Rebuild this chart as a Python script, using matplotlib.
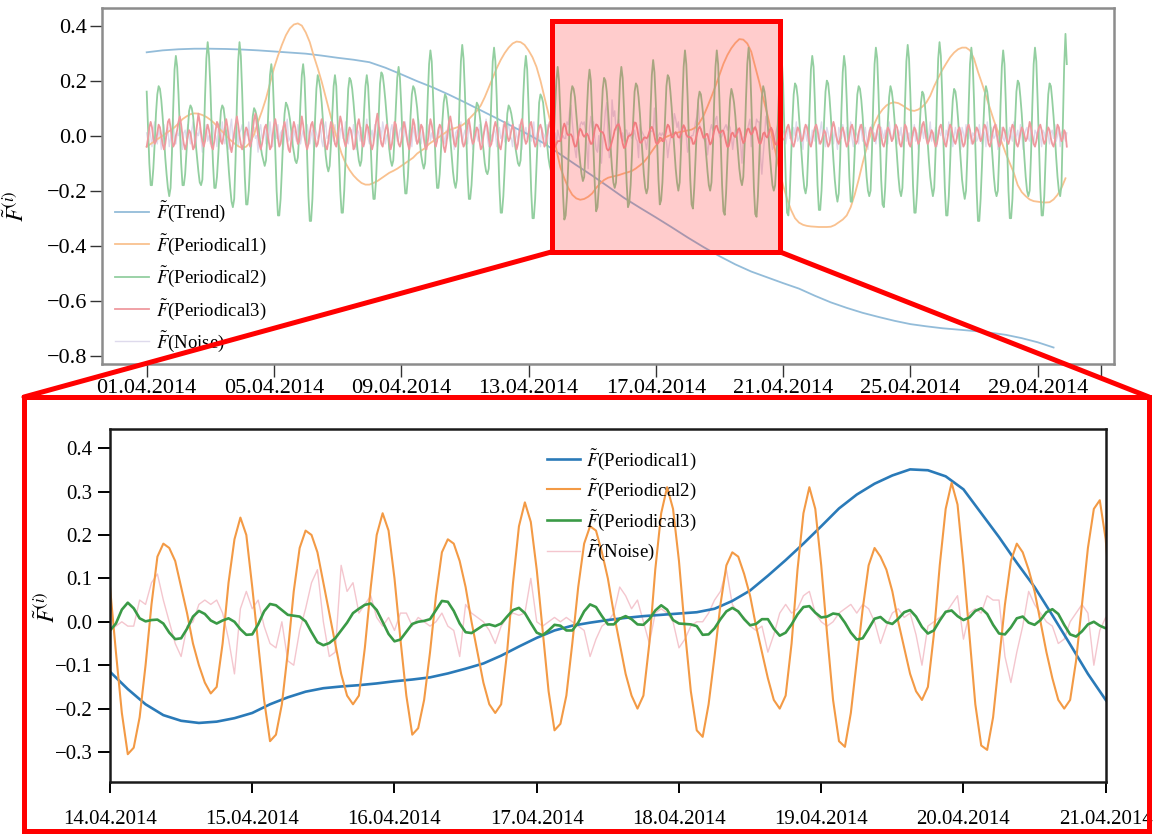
import matplotlib
matplotlib.use('Agg')
import matplotlib.pyplot as plt
import matplotlib.dates as mdates
from matplotlib.patches import Rectangle, ConnectionPatch
import pandas as pd

# hourly components from 01.04.2014 00:00 (one row per day)
periodical2 = [
    0.16, 0.03, -0.10, -0.18, -0.18, -0.12, -0.03, 0.08, 0.15, 0.18, 0.17, 0.13, 0.07, 0.00, -0.08, -0.14, -0.19, -0.22, -0.19, -0.07, 0.10, 0.24, 0.29, 0.25,
    0.15, 0.02, -0.10, -0.18, -0.18, -0.14, -0.06, 0.02, 0.09, 0.11, 0.10, 0.07, 0.02, -0.03, -0.08, -0.13, -0.17, -0.18, -0.16, -0.03, 0.14, 0.28, 0.34, 0.29,
    0.18, 0.03, -0.10, -0.19, -0.19, -0.15, -0.07, 0.02, 0.09, 0.11, 0.10, 0.06, 0.00, -0.06, -0.13, -0.19, -0.24, -0.26, -0.23, -0.09, 0.11, 0.27, 0.34, 0.29,
    0.16, 0.00, -0.15, -0.25, -0.25, -0.20, -0.10, 0.00, 0.07, 0.10, 0.09, 0.07, 0.04, 0.00, -0.04, -0.07, -0.09, -0.11, -0.09, 0.00, 0.12, 0.22, 0.26, 0.22,
    0.09, -0.06, -0.20, -0.29, -0.29, -0.23, -0.12, 0.00, 0.08, 0.12, 0.11, 0.09, 0.06, 0.02, -0.03, -0.06, -0.09, -0.10, -0.08, 0.00, 0.12, 0.22, 0.26, 0.21,
    0.08, -0.07, -0.22, -0.31, -0.31, -0.23, -0.09, 0.06, 0.17, 0.22, 0.20, 0.17, 0.12, 0.05, -0.01, -0.07, -0.11, -0.13, -0.11, -0.03, 0.08, 0.18, 0.22, 0.18,
    0.06, -0.07, -0.20, -0.28, -0.28, -0.20, -0.08, 0.06, 0.17, 0.21, 0.20, 0.17, 0.12, 0.06, 0.00, -0.05, -0.09, -0.11, -0.09, -0.01, 0.09, 0.18, 0.22, 0.18,
    0.08, -0.04, -0.16, -0.23, -0.23, -0.16, -0.04, 0.09, 0.19, 0.23, 0.22, 0.18, 0.13, 0.07, 0.01, -0.05, -0.09, -0.11, -0.09, 0.00, 0.11, 0.21, 0.25, 0.21,
    0.11, -0.02, -0.14, -0.21, -0.21, -0.15, -0.05, 0.07, 0.15, 0.18, 0.17, 0.14, 0.10, 0.04, -0.02, -0.07, -0.10, -0.12, -0.10, 0.00, 0.14, 0.26, 0.31, 0.27,
    0.15, 0.02, -0.11, -0.19, -0.19, -0.14, -0.05, 0.05, 0.12, 0.15, 0.14, 0.10, 0.05, -0.01, -0.07, -0.13, -0.17, -0.19, -0.16, -0.04, 0.13, 0.27, 0.33, 0.28,
    0.16, 0.01, -0.14, -0.23, -0.23, -0.18, -0.09, 0.01, 0.09, 0.12, 0.11, 0.08, 0.04, -0.01, -0.05, -0.10, -0.13, -0.14, -0.12, -0.01, 0.14, 0.27, 0.32, 0.27,
    0.14, -0.03, -0.18, -0.28, -0.28, -0.22, -0.12, -0.01, 0.08, 0.11, 0.10, 0.08, 0.05, 0.01, -0.04, -0.07, -0.10, -0.11, -0.09, 0.00, 0.14, 0.24, 0.29, 0.24,
    0.11, -0.05, -0.20, -0.30, -0.30, -0.23, -0.11, 0.02, 0.12, 0.15, 0.14, 0.12, 0.07, 0.02, -0.03, -0.08, -0.11, -0.13, -0.11, -0.02, 0.10, 0.20, 0.25, 0.20,
    0.08, -0.07, -0.21, -0.305, -0.29, -0.22, -0.10, 0.04, 0.15, 0.18, 0.17, 0.14, 0.08, 0.02, -0.05, -0.10, -0.14, -0.165, -0.15, -0.05, 0.09, 0.19, 0.24, 0.20,
    0.08, -0.05, -0.18, -0.275, -0.26, -0.19, -0.07, 0.07, 0.17, 0.21, 0.20, 0.16, 0.09, 0.02, -0.05, -0.12, -0.17, -0.19, -0.17, -0.06, 0.08, 0.20, 0.25, 0.21,
    0.10, -0.04, -0.17, -0.26, -0.245, -0.18, -0.07, 0.06, 0.16, 0.19, 0.18, 0.14, 0.08, 0.00, -0.07, -0.14, -0.19, -0.21, -0.19, -0.07, 0.09, 0.22, 0.275, 0.23,
    0.12, -0.02, -0.16, -0.25, -0.235, -0.17, -0.05, 0.08, 0.18, 0.22, 0.21, 0.16, 0.10, 0.02, -0.05, -0.12, -0.17, -0.20, -0.17, -0.05, 0.12, 0.25, 0.31, 0.26,
    0.14, -0.02, -0.16, -0.25, -0.265, -0.19, -0.08, 0.04, 0.13, 0.16, 0.15, 0.11, 0.06, -0.01, -0.07, -0.13, -0.18, -0.20, -0.17, -0.05, 0.12, 0.25, 0.31, 0.26,
    0.13, -0.03, -0.18, -0.275, -0.288, -0.21, -0.09, 0.03, 0.13, 0.17, 0.15, 0.12, 0.07, 0.00, -0.06, -0.12, -0.16, -0.18, -0.15, -0.03, 0.13, 0.26, 0.32, 0.27,
    0.13, -0.03, -0.19, -0.285, -0.295, -0.22, -0.09, 0.04, 0.14, 0.18, 0.16, 0.12, 0.07, 0.00, -0.07, -0.13, -0.18, -0.20, -0.18, -0.09, 0.04, 0.17, 0.26, 0.28,
    0.19, 0.02, -0.16, -0.28, -0.29, -0.22, -0.09, 0.05, 0.15, 0.19, 0.18, 0.14, 0.07, 0.00, -0.07, -0.14, -0.19, -0.21, -0.18, -0.06, 0.10, 0.24, 0.29, 0.25,
    0.12, -0.04, -0.18, -0.27, -0.27, -0.20, -0.08, 0.06, 0.16, 0.20, 0.19, 0.14, 0.07, -0.01, -0.09, -0.16, -0.21, -0.24, -0.21, -0.09, 0.09, 0.23, 0.29, 0.25,
    0.13, -0.01, -0.15, -0.24, -0.24, -0.17, -0.06, 0.06, 0.15, 0.18, 0.17, 0.13, 0.07, -0.01, -0.08, -0.15, -0.20, -0.22, -0.20, -0.06, 0.12, 0.26, 0.32, 0.28,
    0.15, -0.01, -0.16, -0.25, -0.26, -0.19, -0.07, 0.05, 0.14, 0.18, 0.16, 0.12, 0.06, -0.01, -0.08, -0.15, -0.20, -0.22, -0.19, -0.06, 0.12, 0.27, 0.33, 0.28,
    0.15, -0.02, -0.18, -0.28, -0.28, -0.21, -0.10, 0.03, 0.12, 0.16, 0.15, 0.11, 0.05, -0.02, -0.09, -0.15, -0.19, -0.22, -0.19, -0.06, 0.13, 0.28, 0.34, 0.29,
    0.15, -0.03, -0.19, -0.29, -0.29, -0.22, -0.10, 0.04, 0.13, 0.17, 0.16, 0.12, 0.06, -0.02, -0.09, -0.16, -0.20, -0.23, -0.20, -0.07, 0.11, 0.26, 0.32, 0.27,
    0.13, -0.04, -0.20, -0.31, -0.31, -0.23, -0.11, 0.03, 0.14, 0.18, 0.16, 0.12, 0.06, -0.01, -0.08, -0.15, -0.20, -0.22, -0.20, -0.07, 0.11, 0.25, 0.31, 0.26,
    0.12, -0.04, -0.20, -0.30, -0.30, -0.23, -0.09, 0.05, 0.16, 0.20, 0.19, 0.14, 0.08, 0.00, -0.08, -0.15, -0.20, -0.22, -0.20, -0.07, 0.11, 0.26, 0.32, 0.27,
    0.13, -0.03, -0.19, -0.29, -0.29, -0.22, -0.09, 0.05, 0.15, 0.19, 0.18, 0.13, 0.07, 0.00, -0.08, -0.15, -0.20, -0.22, -0.18, 0.03, 0.25, 0.37, 0.26,
]

periodical3 = [
    -0.04, -0.01, 0.03, 0.05, 0.03, -0.01, -0.03, -0.02, 0.01, 0.04, 0.03, 0.00, -0.03, -0.05, -0.03, 0.01, 0.05, 0.06, 0.03, -0.01, -0.04, -0.03, 0.00, 0.02,
    0.05, 0.07, 0.04, 0.00, -0.03, -0.05, -0.03, 0.00, 0.02, 0.01, -0.02, -0.05, -0.04, 0.00, 0.04, 0.08, 0.05, 0.01, -0.02, -0.04, -0.02, 0.02, 0.04, 0.02,
    -0.01, -0.04, -0.05, -0.02, 0.02, 0.05, 0.04, 0.01, -0.02, -0.03, 0.00, 0.03, 0.06, 0.03, -0.01, -0.04, -0.06, -0.03, 0.01, 0.04, 0.07, 0.04, 0.00, -0.03,
    -0.05, -0.03, 0.01, 0.03, 0.02, -0.01, -0.04, -0.02, 0.02, 0.06, 0.08, 0.04, 0.00, -0.03, -0.05, -0.03, 0.00, 0.03, 0.04, 0.01, -0.02, -0.05, -0.04, 0.00,
    0.04, 0.06, 0.03, -0.01, -0.04, -0.03, 0.00, 0.03, 0.05, 0.02, -0.02, -0.05, -0.06, -0.02, 0.02, 0.05, 0.03, 0.00, -0.03, -0.02, 0.02, 0.07, 0.04, 0.00,
    -0.03, -0.05, -0.03, 0.01, 0.04, 0.05, 0.02, -0.01, -0.04, -0.03, 0.00, 0.04, 0.06, 0.03, -0.01, -0.04, -0.05, -0.02, 0.02, 0.05, 0.03, 0.00, -0.03, -0.04,
    -0.01, 0.03, 0.07, 0.05, 0.01, -0.02, -0.04, -0.02, 0.01, 0.03, 0.02, -0.01, -0.05, -0.04, 0.00, 0.04, 0.06, 0.03, -0.01, -0.04, -0.03, 0.01, 0.04, 0.03,
    0.00, -0.03, -0.05, -0.03, 0.01, 0.05, 0.08, 0.04, 0.00, -0.03, -0.04, -0.01, 0.02, 0.04, 0.02, -0.02, -0.05, -0.03, 0.01, 0.05, 0.04, 0.00, -0.03, -0.04,
    -0.02, 0.02, 0.05, 0.03, 0.00, -0.03, -0.05, -0.02, 0.02, 0.06, 0.04, 0.00, -0.03, -0.02, 0.01, 0.04, 0.03, -0.01, -0.04, -0.05, -0.02, 0.02, 0.06, 0.04,
    0.01, -0.02, -0.04, -0.02, 0.02, 0.04, 0.03, 0.00, -0.04, -0.06, -0.03, 0.01, 0.05, 0.07, 0.04, 0.00, -0.03, -0.04, -0.01, 0.02, 0.04, 0.02, -0.02, -0.04,
    -0.03, 0.00, 0.04, 0.06, 0.03, -0.01, -0.03, -0.02, 0.01, 0.03, 0.02, -0.02, -0.05, -0.04, 0.00, 0.03, 0.05, 0.03, -0.01, -0.04, -0.03, 0.00, 0.03, 0.05,
    0.03, -0.01, -0.04, -0.05, -0.02, 0.02, 0.05, 0.03, 0.00, -0.02, -0.01, 0.02, 0.04, 0.02, -0.02, -0.05, -0.03, 0.01, 0.04, 0.06, 0.03, -0.01, -0.03, -0.02,
    0.01, 0.04, 0.05, 0.02, -0.02, -0.04, -0.03, 0.00, 0.03, 0.04, 0.02, -0.01, -0.04, -0.03, 0.00, 0.03, 0.05, 0.02, -0.01, -0.03, -0.04, -0.03, -0.02, -0.02,
    -0.020, -0.004, 0.028, 0.044, 0.031, 0.008, 0.001, 0.004, 0.005, -0.004, -0.025, -0.040, -0.038, -0.016, 0.012, 0.025, 0.018, 0.003, -0.004, 0.003, 0.008, 0.000, -0.017, -0.030,
    -0.029, -0.006, 0.024, 0.041, 0.038, 0.027, 0.016, 0.014, 0.012, 0.001, -0.024, -0.047, -0.054, -0.049, -0.038, -0.020, -0.002, 0.020, 0.030, 0.039, 0.042, 0.027, 0.000, -0.028,
    -0.045, -0.041, -0.023, -0.005, 0.000, 0.002, 0.006, 0.027, 0.048, 0.046, 0.025, -0.004, -0.024, -0.026, -0.017, -0.008, -0.006, -0.010, -0.004, 0.012, 0.027, 0.032, 0.020, -0.003,
    -0.025, -0.031, -0.020, -0.007, -0.009, -0.020, -0.020, -0.002, 0.024, 0.040, 0.034, 0.013, -0.006, -0.006, 0.007, 0.013, 0.006, -0.006, -0.007, 0.006, 0.026, 0.038, 0.028, 0.004,
    -0.004, -0.005, -0.006, -0.010, -0.030, -0.029, -0.015, 0.006, 0.024, 0.032, 0.024, 0.006, -0.008, -0.005, 0.006, 0.006, -0.016, -0.032, -0.025, -0.006, 0.017, 0.034, 0.036, 0.021,
    0.010, 0.012, 0.019, 0.017, -0.002, -0.025, -0.041, -0.038, -0.016, 0.007, 0.011, -0.001, -0.005, 0.007, 0.022, 0.027, 0.012, -0.012, -0.027, -0.020, 0.003, 0.023, 0.026, 0.013,
    0.004, 0.010, 0.025, 0.031, 0.018, -0.007, -0.027, -0.029, -0.013, 0.008, 0.012, -0.002, -0.007, 0.004, 0.022, 0.029, 0.018, -0.007, -0.029, -0.034, -0.022, -0.006, 0.000, -0.009,
    -0.015, -0.01, 0.01, 0.03, 0.04, 0.02, -0.01, -0.03, -0.04, -0.02, 0.01, 0.03, 0.02, 0.00, -0.02, -0.01, 0.02, 0.04, 0.03, 0.00, -0.03, -0.04, -0.02, 0.01,
    0.03, 0.04, 0.02, -0.01, -0.03, -0.02, 0.00, 0.02, 0.01, -0.02, -0.04, -0.03, 0.00, 0.03, 0.05, 0.03, 0.00, -0.02, -0.03, -0.01, 0.02, 0.03, 0.01, -0.02,
    -0.04, -0.03, 0.00, 0.03, 0.04, 0.02, -0.01, -0.03, -0.02, 0.01, 0.03, 0.04, 0.02, -0.01, -0.03, -0.04, -0.02, 0.01, 0.03, 0.02, 0.00, -0.02, -0.01, 0.02,
    0.04, 0.03, 0.00, -0.03, -0.04, -0.02, 0.01, 0.03, 0.02, 0.00, -0.02, -0.01, 0.02, 0.04, 0.03, 0.00, -0.03, -0.04, -0.02, 0.01, 0.04, 0.03, 0.00, -0.03,
    -0.04, -0.02, 0.01, 0.03, 0.02, -0.01, -0.03, -0.02, 0.01, 0.04, 0.05, 0.02, -0.01, -0.03, -0.02, 0.00, 0.02, 0.01, -0.02, -0.04, -0.03, 0.00, 0.03, 0.04,
    0.02, -0.01, -0.03, -0.04, -0.01, 0.02, 0.04, 0.03, 0.00, -0.02, -0.03, -0.01, 0.02, 0.03, 0.01, -0.02, -0.04, -0.03, 0.00, 0.03, 0.04, 0.02, -0.01, -0.03,
    -0.02, 0.01, 0.03, 0.02, 0.00, -0.02, -0.01, 0.02, 0.04, 0.03, 0.00, -0.03, -0.04, -0.02, 0.01, 0.03, 0.04, 0.01, -0.02, -0.04, -0.03, 0.00, 0.03, 0.02,
    0.00, -0.02, -0.03, -0.01, 0.02, 0.04, 0.03, 0.00, -0.03, -0.04, -0.02, 0.01, 0.03, 0.02, 0.00, -0.02, -0.01, 0.02, 0.05, 0.03, 0.00, -0.03, -0.04, -0.02,
    0.01, 0.03, 0.04, 0.02, -0.01, -0.03, -0.02, 0.01, 0.03, 0.02, -0.01, -0.03, -0.04, -0.02, 0.01, 0.04, 0.03, 0.00, -0.02, -0.01, 0.02, 0.01, -0.04,
]

noise = [
    0.01, -0.02, 0.03, 0.00, -0.04, 0.02, 0.05, -0.01, -0.03, 0.02, 0.00, -0.05, 0.01, 0.04, -0.02, 0.00, 0.03, -0.04, -0.01, 0.02, 0.06, -0.02, -0.03, 0.01,
    0.00, 0.03, -0.02, -0.05, 0.01, 0.02, -0.01, 0.04, 0.00, -0.03, 0.02, 0.05, -0.02, -0.04, 0.01, 0.00, 0.03, -0.01, -0.06, 0.02, 0.01, 0.04, -0.02, 0.00,
    -0.03, 0.02, 0.04, -0.01, 0.00, -0.04, 0.03, 0.01, -0.02, 0.05, -0.01, -0.03, 0.02, 0.00, -0.05, 0.03, 0.06, -0.02, 0.00, -0.01, 0.03, -0.04, 0.01, 0.02,
    0.04, -0.01, -0.03, 0.02, 0.00, 0.05, -0.02, -0.04, 0.01, 0.03, -0.01, 0.00, -0.06, 0.02, 0.04, -0.01, 0.00, 0.03, -0.03, 0.01, -0.02, 0.05, 0.00, -0.04,
    0.02, 0.00, -0.01, 0.04, -0.03, 0.01, 0.02, -0.05, 0.00, 0.03, 0.06, -0.02, -0.01, 0.01, -0.04, 0.02, 0.00, -0.02, 0.04, 0.01, -0.03, 0.00, 0.02, -0.01,
    -0.02, 0.04, 0.01, -0.03, 0.00, 0.02, -0.05, 0.03, 0.01, -0.01, 0.00, 0.04, -0.02, -0.04, 0.03, 0.05, -0.01, 0.00, -0.03, 0.02, 0.01, -0.02, 0.04, 0.00,
    0.01, -0.04, 0.02, 0.03, -0.01, 0.00, 0.05, -0.02, -0.03, 0.01, 0.02, -0.01, 0.04, 0.00, -0.05, 0.02, 0.01, -0.02, 0.03, 0.00, -0.04, 0.02, 0.06, -0.01,
    -0.03, 0.00, 0.02, -0.02, 0.04, 0.01, -0.04, 0.00, 0.03, -0.01, 0.05, 0.02, -0.03, 0.00, 0.01, -0.05, 0.02, 0.04, -0.01, 0.00, 0.03, -0.02, -0.01, 0.02,
    0.03, -0.02, 0.00, 0.05, -0.01, -0.03, 0.02, 0.00, -0.04, 0.03, 0.01, -0.02, 0.00, 0.06, -0.01, -0.03, 0.02, 0.01, -0.05, 0.00, 0.02, 0.04, -0.02, 0.01,
    -0.01, 0.02, -0.04, 0.00, 0.03, 0.01, -0.02, 0.05, 0.00, -0.03, 0.02, -0.01, 0.04, -0.02, 0.00, 0.03, -0.05, 0.01, 0.02, -0.01, 0.00, 0.05, -0.03, 0.00,
    0.02, 0.00, -0.03, 0.04, 0.01, -0.01, -0.05, 0.02, 0.03, 0.00, -0.02, 0.04, 0.01, -0.03, 0.00, 0.02, 0.06, -0.01, -0.04, 0.01, 0.00, -0.02, 0.03, 0.01,
    -0.04, 0.01, 0.03, -0.01, 0.00, 0.04, -0.02, -0.03, 0.02, 0.05, 0.00, -0.01, -0.04, 0.02, 0.03, 0.00, -0.02, 0.04, 0.01, -0.05, 0.02, 0.00, 0.03, -0.01,
    0.00, 0.03, -0.02, 0.01, 0.05, -0.03, 0.00, 0.02, -0.01, -0.04, 0.03, 0.01, 0.00, -0.02, 0.04, 0.02, -0.03, 0.00, 0.05, -0.01, 0.01, -0.03, 0.02, 0.00,
    -0.02, -0.01, 0.00, -0.01, -0.01, 0.05, 0.04, 0.09, 0.11, 0.05, 0.00, -0.05, -0.08, -0.01, 0.00, 0.04, 0.05, 0.04, 0.05, 0.02, -0.04, -0.12, 0.03, 0.07,
    0.03, 0.05, -0.01, -0.05, -0.06, 0.00, -0.09, -0.10, -0.02, 0.03, 0.09, 0.12, 0.00, -0.08, -0.07, 0.13, 0.07, 0.09, 0.02, 0.04, 0.06, 0.01, -0.01, 0.01,
    -0.02, 0.02, 0.02, -0.01, 0.01, 0.00, -0.01, 0.00, 0.02, -0.01, -0.02, -0.08, 0.04, 0.02, 0.01, 0.00, -0.02, -0.05, -0.01, 0.01, 0.02, 0.015, 0.02, 0.10,
    0.00, -0.01, 0.00, 0.01, 0.00, 0.01, 0.00, -0.01, -0.02, -0.08, -0.04, -0.01, 0.00, 0.02, 0.08, 0.06, 0.03, 0.05, 0.00, -0.05, 0.02, 0.03, 0.02, 0.00,
    -0.06, -0.04, -0.01, 0.00, 0.00, 0.02, 0.05, 0.07, 0.12, 0.04, 0.02, 0.01, -0.01, -0.02, -0.01, -0.07, -0.03, 0.02, 0.04, 0.02, 0.03, 0.06, 0.07, 0.02,
    0.00, -0.01, 0.00, 0.02, 0.03, 0.04, 0.02, 0.04, 0.03, 0.00, -0.05, -0.01, 0.02, 0.03, 0.01, 0.02, -0.03, -0.10, -0.01, 0.00, 0.01, 0.02, 0.04, 0.06,
    -0.04, 0.02, 0.03, 0.02, 0.06, 0.05, 0.05, -0.08, -0.14, -0.07, -0.01, 0.07, 0.04, 0.02, 0.00, -0.01, -0.05, -0.04, 0.00, 0.02, 0.04, 0.02, -0.10, -0.02,
    0.01, 0.02, -0.03, 0.00, 0.04, -0.01, 0.01, -0.04, 0.03, 0.00, 0.05, -0.02, -0.01, 0.02, 0.00, -0.05, 0.03, 0.01, -0.02, 0.04, 0.00, -0.03, 0.02, 0.01,
    -0.02, 0.04, 0.00, -0.03, 0.02, 0.05, -0.01, 0.00, -0.04, 0.03, 0.01, -0.02, 0.00, 0.04, -0.03, 0.02, 0.00, -0.05, 0.03, 0.01, -0.01, 0.04, 0.00, -0.02,
    0.03, 0.00, -0.02, 0.05, -0.01, -0.04, 0.02, 0.01, 0.00, -0.03, 0.04, 0.02, -0.02, 0.00, 0.03, -0.01, -0.05, 0.02, 0.00, 0.04, -0.02, 0.01, -0.03, 0.02,
    0.00, -0.04, 0.03, 0.01, -0.01, 0.02, 0.00, -0.03, 0.05, 0.01, -0.02, 0.00, 0.04, -0.01, -0.03, 0.02, 0.00, 0.03, -0.04, 0.01, 0.05, -0.02, 0.00, 0.01,
    -0.03, 0.02, 0.00, 0.04, -0.02, 0.01, -0.05, 0.00, 0.03, 0.02, -0.01, 0.04, 0.00, -0.03, 0.01, 0.05, -0.02, 0.00, -0.01, 0.03, -0.04, 0.02, 0.01, 0.00,
    0.04, -0.01, -0.03, 0.02, 0.00, 0.05, -0.02, 0.01, -0.04, 0.00, 0.03, -0.01, 0.02, 0.00, -0.05, 0.03, 0.01, -0.02, 0.04, 0.00, -0.01, 0.02, -0.03, 0.01,
    0.00, 0.03, -0.02, -0.01, 0.04, 0.00, -0.03, 0.02, 0.01, -0.04, 0.05, 0.00, -0.02, 0.03, 0.01, -0.01, 0.00, 0.04, -0.05, 0.02, 0.00, 0.03, -0.01, -0.02,
    0.02, -0.04, 0.01, 0.03, 0.00, -0.02, 0.05, -0.01, 0.00, 0.02, -0.03, 0.04, 0.01, -0.05, 0.00, 0.02, 0.03, -0.01, -0.02, 0.04, 0.00, -0.03, 0.02, 0.01,
    -0.01, 0.03, 0.00, -0.04, 0.02, 0.01, -0.02, 0.05, 0.00, -0.03, 0.01, 0.02, -0.01, 0.04, -0.02, 0.00, 0.03, -0.04, 0.01, 0.02, 0.00, -0.02, 0.01,
]

# 3-hourly slow component (one row per day)
periodical1 = [
    -0.04, -0.03, -0.02, -0.01, 0.00, 0.01, 0.02, 0.03,
    0.045, 0.06, 0.07, 0.078, 0.081, 0.08, 0.075, 0.068,
    0.058, 0.045, 0.03, 0.015, 0.00, -0.015, -0.028, -0.038,
    -0.045, -0.04, -0.025, 0.005, 0.05, 0.09, 0.135, 0.19,
    0.245, 0.29, 0.33, 0.365, 0.39, 0.404, 0.408, 0.40,
    0.375, 0.34, 0.29, 0.245, 0.196, 0.14, 0.085, 0.03,
    -0.02, -0.065, -0.10, -0.125, -0.145, -0.16, -0.172, -0.178,
    -0.178, -0.172, -0.165, -0.155, -0.145, -0.135, -0.128, -0.12,
    -0.11, -0.10, -0.09, -0.08, -0.065, -0.055, -0.045, -0.03,
    -0.02, -0.01, 0.00, 0.01, 0.02, 0.025, 0.03, 0.035,
    0.045, 0.06, 0.075, 0.09, 0.11, 0.14, 0.175, 0.21,
    0.245, 0.275, 0.30, 0.32, 0.335, 0.342, 0.34, 0.33,
    0.31, 0.285, 0.25, 0.20, 0.14, 0.08, 0.02, -0.05,
    -0.115, -0.155, -0.19, -0.215, -0.228, -0.233, -0.23, -0.222,
    -0.21, -0.19, -0.174, -0.161, -0.153, -0.149, -0.146, -0.142,
    -0.137, -0.133, -0.128, -0.119, -0.108, -0.096, -0.078, -0.057,
    -0.037, -0.02, -0.009, -0.002, 0.004, 0.009, 0.013, 0.016,
    0.019, 0.022, 0.03, 0.048, 0.072, 0.106, 0.142, 0.18,
    0.22, 0.261, 0.293, 0.318, 0.337, 0.351, 0.349, 0.335,
    0.305, 0.25, 0.195, 0.136, 0.08, 0.015, -0.052, -0.12,
    -0.18, -0.23, -0.27, -0.30, -0.316, -0.324, -0.328, -0.33,
    -0.331, -0.332, -0.332, -0.332, -0.331, -0.325, -0.315, -0.305,
    -0.29, -0.26, -0.215, -0.16, -0.10, -0.045, 0.005, 0.045,
    0.075, 0.095, 0.11, 0.118, 0.121, 0.118, 0.11, 0.10,
    0.092, 0.09, 0.095, 0.105, 0.12, 0.145, 0.18, 0.21,
    0.238, 0.262, 0.285, 0.302, 0.314, 0.32, 0.32, 0.31,
    0.28, 0.232, 0.19, 0.145, 0.10, 0.055, 0.015, -0.025,
    -0.065, -0.10, -0.135, -0.18, -0.205, -0.22, -0.232, -0.238,
    -0.24, -0.242, -0.243, -0.242, -0.232, -0.215, -0.19, -0.155,
]

# 12-hourly trend
trend = [
    0.303, 0.31, 0.314, 0.316, 0.316, 0.315, 0.313, 0.31, 0.306, 0.302,
    0.298, 0.291, 0.283, 0.276, 0.267, 0.247, 0.223, 0.198, 0.175, 0.149,
    0.121, 0.092, 0.063, 0.033, 0.004, -0.029, -0.068, -0.107, -0.145, -0.185,
    -0.226, -0.262, -0.297, -0.333, -0.37, -0.405, -0.438, -0.468, -0.494, -0.515,
    -0.536, -0.556, -0.582, -0.606, -0.626, -0.644, -0.659, -0.673, -0.685, -0.693,
    -0.70, -0.705, -0.71, -0.716, -0.724, -0.736, -0.751, -0.77,
]

t_hour = pd.date_range('2014-04-01', periods=len(periodical2), freq='h')
t_3h = pd.date_range('2014-04-01', periods=len(periodical1), freq='3h')
t_12h = pd.date_range('2014-04-01', periods=len(trend), freq='12h')

plt.rcParams['font.family'] = ['Liberation Serif', 'DejaVu Serif']
plt.rcParams['mathtext.fontset'] = 'stix'
plt.rcParams['lines.solid_joinstyle'] = 'round'

W, H = 1156, 835
fig = plt.figure(figsize=(W / 100, H / 100), dpi=100)


def px_box(x0, y0, x1, y1):
    return [x0 / W, 1 - y1 / H, (x1 - x0) / W, (y1 - y0) / H]


day0 = mdates.date2num(pd.Timestamp('2014-04-01'))
lbl = r'$\tilde{F}$(%s)'

# ---- whole month ----
ax = fig.add_axes(px_box(101.7, 8, 1114, 364))
ax.plot(t_12h, trend, color='#93bcd9', lw=1.3, label=lbl % 'Trend')
ax.plot(t_3h, periodical1, color='#f9c18f', lw=1.3, label=lbl % 'Periodical1')
ax.plot(t_hour, periodical2, color='#93cfa0', lw=1.3, label=lbl % 'Periodical2')
ax.plot(t_hour, periodical3, color='#ef9a9f', lw=1.3, label=lbl % 'Periodical3')
ax.plot(t_hour, noise, color='#dedaec', lw=1.0, label=lbl % 'Noise', zorder=1)

ax.set_xlim(day0 - 1.414, day0 + 30.4)
ax.set_ylim(-0.83, 0.464)
ax.set_yticks([-0.8, -0.6, -0.4, -0.2, 0.0, 0.2, 0.4])
ticks = [day0 + 4 * k for k in range(8)] + [day0 + 30]
ax.set_xticks(ticks)
ax.set_xticklabels([mdates.num2date(t).strftime('%d.%m.%Y') for t in ticks[:-1]] + [''])
ax.tick_params(axis='both', direction='out', length=9, width=1.0, pad=1.5,
               labelsize=16, color='#333333')
for s in ax.spines.values():
    s.set_color('#8c8c8c')
    s.set_linewidth(1.8)
ax.set_ylabel(r'$\tilde{F}^{(i)}$', fontsize=17)
ax.yaxis.set_label_coords(-0.072, 0.444)
ax.legend(loc='lower left', bbox_to_anchor=(0.013, 0.028), frameon=False,
          fontsize=13.5, handlelength=1.8, handletextpad=0.4, labelspacing=0.42,
          borderpad=0, borderaxespad=0)

# zoom window marker
bx0, bx1, by0, by1 = day0 + 12.74, day0 + 19.89, -0.422, 0.417
ax.add_patch(Rectangle((bx0, by0), bx1 - bx0, by1 - by0, facecolor=(1, 0, 0, 0.2),
                       edgecolor='red', lw=3.6, zorder=5))

# ---- 14.04 - 21.04 ----
ab = fig.add_axes(px_box(110, 429, 1105.7, 782))
ab.plot(t_3h, periodical1, color='#2a7ab8', lw=1.9, label=lbl % 'Periodical1')
ab.plot(t_hour, periodical2, color='#f39a45', lw=1.5, label=lbl % 'Periodical2')
ab.plot(t_hour, periodical3, color='#3a9a46', lw=1.9, label=lbl % 'Periodical3')
ab.plot(t_hour, noise, color='#f4c6ce', lw=1.0, label=lbl % 'Noise', zorder=1.5)
ab.set_xlim(day0 + 13, day0 + 20)
ab.set_ylim(-0.369, 0.444)
ab.set_yticks([-0.3, -0.2, -0.1, 0.0, 0.1, 0.2, 0.3, 0.4])
bticks = [day0 + 13 + k for k in range(8)]
ab.set_xticks(bticks)
ab.set_xticklabels([mdates.num2date(t).strftime('%d.%m.%Y') for t in bticks])
ab.tick_params(axis='x', direction='out', length=8, width=1.4, pad=12, labelsize=15)
ab.tick_params(axis='y', direction='out', length=9, width=1.4, pad=3.5, labelsize=15)
for s in ab.spines.values():
    s.set_color('#1a1a1a')
    s.set_linewidth(1.8)
ab.set_ylabel(r'$\tilde{F}^{(i)}$', fontsize=17)
ab.yaxis.set_label_coords(-0.05, 0.496)
ab.legend(loc='upper left', bbox_to_anchor=(0.4386, 0.949), frameon=False,
          fontsize=13.5, handlelength=1.8, handletextpad=0.3, labelspacing=0.32,
          borderpad=0, borderaxespad=0)

# frame around the zoomed panel and the connecting lines
fig.add_artist(Rectangle((24 / W, 1 - 831 / H), (1149 - 24) / W, (831 - 397) / H,
                         transform=fig.transFigure, fill=False, edgecolor='red', lw=3.6))
for xa, xb in [(bx0, 24), (bx1, 1149)]:
    con = ConnectionPatch(xyA=(xa, by0), coordsA=ax.transData,
                          xyB=(xb / W, 1 - 397 / H), coordsB=fig.transFigure,
                          color='red', lw=3.6)
    fig.add_artist(con)

fig.savefig('out.png', dpi=100)
